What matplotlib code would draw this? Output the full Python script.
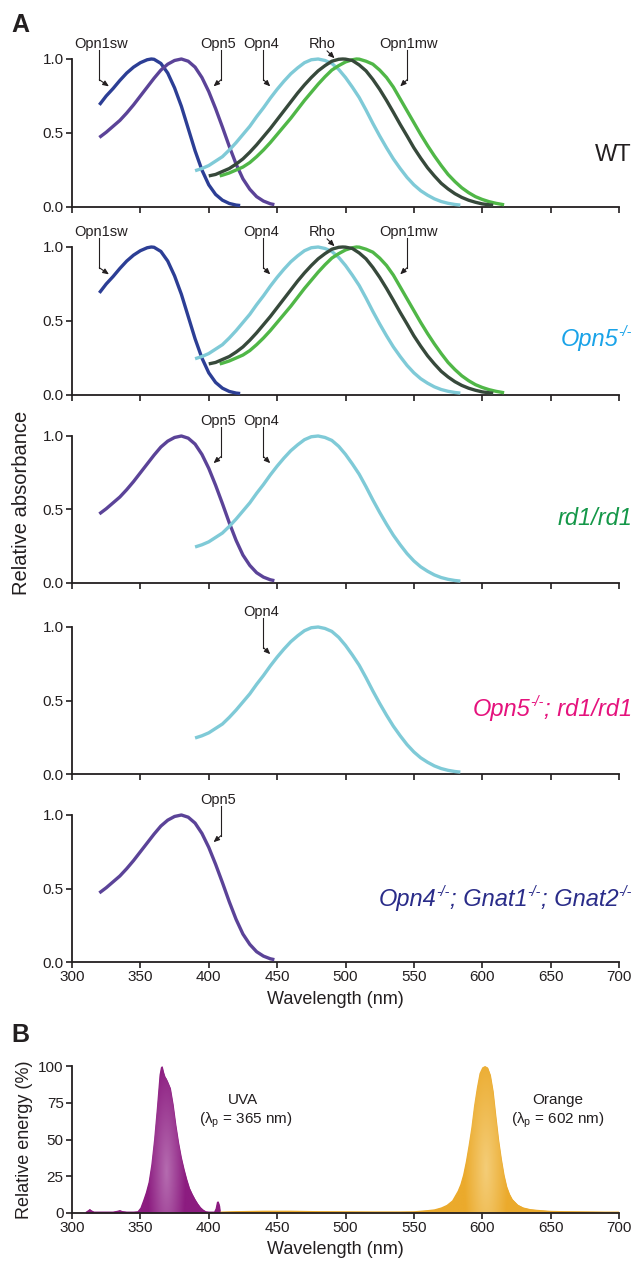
import numpy as np
import matplotlib
matplotlib.use('Agg')
import matplotlib.pyplot as plt
from matplotlib.colors import to_rgb
from matplotlib.transforms import IdentityTransform

plt.rcParams['font.family'] = ['Liberation Sans', 'DejaVu Sans']
plt.rcParams['mathtext.fontset'] = 'custom'
plt.rcParams['mathtext.rm'] = 'Liberation Sans'
plt.rcParams['mathtext.it'] = 'Liberation Sans:italic'

INK = '#231F20'

# --- panel A: relative absorbance of each photopigment ---
opn1sw_nm = [320, 325, 330, 335, 340, 345, 350, 355, 358, 360, 365, 370, 375, 380,
             385, 390, 395, 400, 405, 410, 415, 420, 423]
opn1sw_abs = [0.69, 0.75, 0.80, 0.855, 0.905, 0.945, 0.975, 0.995, 1.0, 0.998, 0.97,
              0.905, 0.805, 0.68, 0.53, 0.38, 0.25, 0.15, 0.085, 0.046, 0.024, 0.013, 0.01]

opn5_nm = [320, 325, 330, 335, 340, 345, 350, 355, 360, 365, 370, 375, 380, 385, 390,
           395, 400, 405, 410, 415, 420, 425, 430, 435, 440, 445, 448]
opn5_abs = [0.47, 0.505, 0.545, 0.585, 0.635, 0.69, 0.75, 0.81, 0.87, 0.925, 0.965,
            0.99, 1.0, 0.985, 0.945, 0.875, 0.78, 0.665, 0.54, 0.41, 0.29, 0.19, 0.12,
            0.07, 0.04, 0.022, 0.016]

opn4_nm = [390, 395, 400, 405, 410, 415, 420, 425, 430, 435, 440, 445, 450, 455, 460,
           465, 470, 475, 480, 485, 490, 495, 500, 505, 510, 515, 520, 525, 530, 535,
           540, 545, 550, 555, 560, 565, 570, 575, 580, 584]
opn4_abs = [0.245, 0.26, 0.28, 0.31, 0.34, 0.385, 0.435, 0.49, 0.545, 0.61, 0.67, 0.735,
            0.795, 0.85, 0.9, 0.94, 0.975, 0.995, 1.0, 0.99, 0.97, 0.93, 0.875, 0.81,
            0.74, 0.655, 0.565, 0.48, 0.40, 0.325, 0.26, 0.20, 0.15, 0.11, 0.08, 0.055,
            0.037, 0.025, 0.017, 0.013]

rho_nm = [400, 405, 410, 415, 420, 425, 430, 435, 440, 445, 450, 455, 460, 465, 470,
          475, 480, 485, 490, 495, 498, 500, 505, 510, 515, 520, 525, 530, 535, 540,
          545, 550, 555, 560, 565, 570, 575, 580, 585, 590, 595, 600, 605, 608]
rho_abs = [0.21, 0.22, 0.24, 0.26, 0.29, 0.325, 0.37, 0.42, 0.475, 0.53, 0.59, 0.65,
           0.71, 0.77, 0.825, 0.875, 0.92, 0.955, 0.985, 0.998, 1.0, 0.999, 0.99, 0.96,
           0.92, 0.862, 0.795, 0.72, 0.64, 0.558, 0.48, 0.40, 0.33, 0.265, 0.21, 0.16,
           0.122, 0.09, 0.065, 0.046, 0.032, 0.021, 0.015, 0.011]

opn1mw_nm = [408, 410, 415, 420, 425, 430, 435, 440, 445, 450, 455, 460, 465, 470, 475,
             480, 485, 490, 495, 500, 505, 508, 510, 515, 520, 525, 530, 535, 540, 545,
             550, 555, 560, 565, 570, 575, 580, 585, 590, 595, 600, 605, 610, 616]
opn1mw_abs = [0.21, 0.215, 0.23, 0.25, 0.27, 0.30, 0.34, 0.385, 0.435, 0.49, 0.545, 0.60,
              0.66, 0.72, 0.775, 0.83, 0.88, 0.925, 0.955, 0.98, 0.995, 1.0, 0.999,
              0.985, 0.965, 0.925, 0.875, 0.81, 0.73, 0.65, 0.57, 0.49, 0.415, 0.345,
              0.28, 0.22, 0.172, 0.13, 0.097, 0.07, 0.051, 0.036, 0.025, 0.015]

# --- panel B: LED emission spectra ---
uva_nm = [310, 312, 313, 314, 316, 320, 330, 333, 335, 337, 340, 345, 348, 350, 352,
          354, 356, 358, 360, 362, 364, 365, 366, 367, 368, 369, 370, 372, 374, 376,
          378, 380, 382, 384, 386, 388, 390, 392, 394, 396, 398, 400, 404, 405, 406,
          407, 408, 408.5]
uva_pct = [0.8, 2.0, 2.8, 2.0, 1.0, 1.0, 1.0, 1.5, 2.0, 1.3, 1.0, 1.0, 1.2, 3.5, 8.5,
           14, 21, 33, 50, 71, 94, 99, 100, 96, 93, 91.5, 89.5, 85, 74, 60, 48, 38, 30,
           23, 17, 13, 9.5, 6.5, 4, 2.3, 1.2, 1.0, 1.0, 3, 7.5, 8, 5, 1.0]

orange_nm = [408.5, 420, 440, 460, 480, 500, 520, 540, 550, 555, 560, 565, 570, 574,
             578, 582, 584, 586, 588, 590, 592, 594, 596, 598, 600, 602, 604, 606, 608,
             610, 612, 614, 616, 618, 620, 622, 626, 630, 635, 640, 650, 660, 670, 680,
             690, 700]
orange_pct = [1.0, 1.3, 1.6, 1.6, 1.3, 1.2, 1.1, 1.1, 1.2, 1.6, 2.0, 2.5, 3.8, 5.5, 8.5,
              15, 19.5, 26, 35, 46, 58, 73, 85, 95, 99, 100, 99, 94, 83, 66, 50, 37, 26,
              18, 13, 9.5, 5.7, 3.8, 2.7, 2.2, 1.5, 1.3, 1.2, 1.1, 1.0, 1.0]

x_ticks = [300, 350, 400, 450, 500, 550, 600, 650, 700]

pigments = {
    'Opn1sw': (opn1sw_nm, opn1sw_abs, '#2C3E95'),
    'Opn5': (opn5_nm, opn5_abs, '#5B4398'),
    'Opn4': (opn4_nm, opn4_abs, '#7FCAD7'),
    'Opn1mw': (opn1mw_nm, opn1mw_abs, '#50B747'),
    'Rho': (rho_nm, rho_abs, '#37493B'),
}

# genotype label pieces: (text, is_superscript); WT is upright, the rest italic
SUP = '-/-'
genotypes = [
    ([('WT', False)], INK, 'normal', 0.37, ['Opn1sw', 'Opn5', 'Opn4', 'Opn1mw', 'Rho']),
    ([('Opn5', False), (SUP, True)], '#1AA3E8', 'italic', 0.39,
     ['Opn1sw', 'Opn4', 'Opn1mw', 'Rho']),
    ([('rd1/rd1', False)], '#149748', 'italic', 0.45, ['Opn5', 'Opn4']),
    ([('Opn5', False), (SUP, True), ('; rd1/rd1', False)], '#E5127D', 'italic', 0.455,
     ['Opn4']),
    ([('Opn4', False), (SUP, True), ('; Gnat1', False), (SUP, True), ('; Gnat2', False),
      (SUP, True)], '#2A2C89', 'italic', 0.44, ['Opn5']),
]

# pointer layout: label position, leader line, arrow tip (data coords)
pointers = {
    'Opn1sw': ((321, 1.10), [(320, 1.06), (320, 0.86)], (327, 0.815)),
    'Opn5': ((407, 1.10), [(409, 1.06), (409, 0.86)], (403.5, 0.815)),
    'Opn4': ((438, 1.10), [(440, 1.06), (440, 0.86)], (445, 0.815)),
    'Rho': ((483, 1.10), [(486.5, 1.055)], (492, 1.005)),
    'Opn1mw': ((546, 1.10), [(545, 1.06), (545, 0.86)], (540, 0.815)),
}


def style_axis(ax, ylim, yticks, labels_on):
    for side in ('top', 'right'):
        ax.spines[side].set_visible(False)
    for side in ('left', 'bottom'):
        ax.spines[side].set_linewidth(1.3)
        ax.spines[side].set_color(INK)
    ax.set_xlim(300, 700)
    ax.set_ylim(*ylim)
    ax.set_xticks(x_ticks)
    ax.set_yticks(yticks)
    ax.tick_params(direction='out', length=4, width=1.2, color=INK, labelsize=11,
                   labelcolor=INK, pad=2)
    if not labels_on:
        ax.set_xticklabels([])


fig = plt.figure(figsize=(6.35, 12.62), dpi=100)
renderer = fig.canvas.get_renderer()
W = 1262.0


def rich_label(ax, yfrac, pieces, color, style, size=17, x_right=632):
    # label with small raised "-/-", right-aligned at x_right (pixels)
    em = size * 100 / 72.0
    yc = ax.transAxes.transform((0, yfrac))[1]
    base = yc - 0.36 * em
    objs = []
    for s, sup in pieces:
        t = fig.text(0, 0, s, transform=IdentityTransform(), style=style, color=color,
                     fontsize=size * 0.6 if sup else size, ha='left', va='baseline')
        w = t.get_window_extent(renderer).width
        objs.append((t, sup, w))
    x = x_right - sum(w for _, _, w in objs)
    for t, sup, w in objs:
        t.set_position((x, base + (0.42 * em if sup else 0)))
        x += w


left, width = 72 / 635, (619 - 72) / 635
panel_px = [(59, 207), (247, 395), (436, 583), (627, 774), (815, 962)]

for i, ((top, bot), (pieces, gcol, gstyle, gy, names)) in enumerate(zip(panel_px, genotypes)):
    ax = fig.add_axes([left, 1 - bot / W, width, (bot - top) / W])
    style_axis(ax, (0, 1), [0, 0.5, 1.0], i == len(panel_px) - 1)
    ax.set_yticklabels(['0.0', '0.5', '1.0'])
    for name in names:
        nm, ab, col = pigments[name]
        ax.plot(nm, ab, color=col, lw=2.4, solid_capstyle='butt', clip_on=False, zorder=3)
        (tx, ty), path, tip = pointers[name]
        ax.text(tx, ty, name, ha='center', va='center', fontsize=10.5, color=INK)
        px, py = zip(*path)
        ax.plot(px, py, color=INK, lw=0.8, clip_on=False)
        ax.annotate('', xy=tip, xytext=path[-1], annotation_clip=False,
                    arrowprops=dict(arrowstyle='-|>,head_length=0.35,head_width=0.15',
                                    lw=0.8, color=INK, shrinkA=0, shrinkB=0))
    rich_label(ax, gy, pieces, gcol, gstyle)
    if i == len(panel_px) - 1:
        ax.set_xlabel('Wavelength (nm)', fontsize=13, color=INK)
        ax.xaxis.set_label_coords((335 - 72) / 547, -0.2)

fig.text(22 / 635, 1 - 503 / W, 'Relative absorbance', rotation=90, ha='center',
         va='center', fontsize=14.5, color=INK)
fig.text(11 / 635, 1 - 25 / W, 'A', fontsize=18, fontweight='bold', va='center', color=INK)
fig.text(11 / 635, 1 - 1035 / W, 'B', fontsize=18, fontweight='bold', va='center', color=INK)

# panel B
axb = fig.add_axes([left, 1 - 1213 / W, width, (1213 - 1066) / W])


def shaded_fill(ax, x, y, edge, center, cx, cy, sx, sy):
    poly = ax.fill_between(x, 0, y, color=edge, lw=0, zorder=2)
    gx, gy = np.meshgrid(np.linspace(300, 700, 800), np.linspace(0, 100, 300))
    r = np.clip(np.hypot((gx - cx) / sx, (gy - cy) / sy), 0, 1)[..., None]
    img = np.array(to_rgb(center)) * (1 - r) + np.array(to_rgb(edge)) * r
    im = ax.imshow(img, extent=(300, 700, 0, 100), origin='lower', aspect='auto',
                   zorder=2.5, interpolation='bilinear')
    im.set_clip_path(poly.get_paths()[0], transform=ax.transData)


shaded_fill(axb, uva_nm, uva_pct, '#8C1C80', '#B56CB0', 369, 28, 14, 75)
shaded_fill(axb, orange_nm, orange_pct, '#EBAA2C', '#F4CD78', 603, 30, 16, 80)
style_axis(axb, (0, 100), [0, 25, 50, 75, 100], True)
axb.set_xlabel('Wavelength (nm)', fontsize=13, color=INK)
axb.xaxis.set_label_coords((335 - 72) / 547, -0.19)
axb.set_ylabel('Relative energy (%)', fontsize=13, color=INK, labelpad=4)
axb.text(425, 77, 'UVA', ha='center', va='center', fontsize=11, color=INK)
axb.text(427, 63, '(λ$_\\mathrm{p}$ = 365 nm)', ha='center', va='center', fontsize=11,
         color=INK)
axb.text(655, 77, 'Orange', ha='center', va='center', fontsize=11, color=INK)
axb.text(655, 63, '(λ$_\\mathrm{p}$ = 602 nm)', ha='center', va='center', fontsize=11,
         color=INK)

fig.savefig('out.png', dpi=100)
